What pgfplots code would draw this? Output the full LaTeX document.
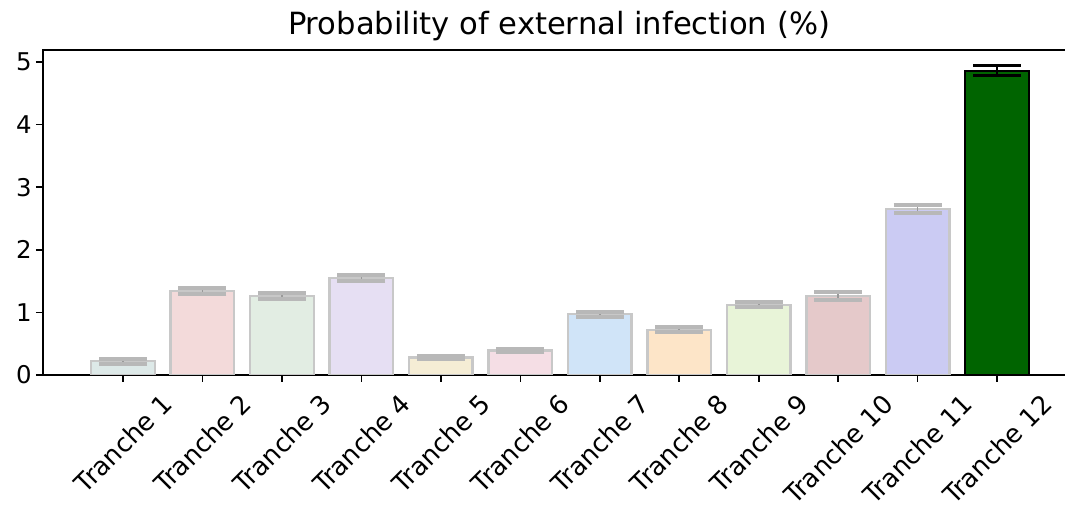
\documentclass[border=0pt]{standalone}
\usepackage{pgfplots}
\pgfplotsset{compat=1.18}
\usepackage{fontspec}
\setmainfont{DejaVu Sans}

% pastel fills of the faded bars
\definecolor{c1}{HTML}{DDE9E8}
\definecolor{c2}{HTML}{F3DADA}
\definecolor{c3}{HTML}{E2EDE3}
\definecolor{c4}{HTML}{E6DFF3}
\definecolor{c5}{HTML}{F5EDD5}
\definecolor{c6}{HTML}{F5DEE5}
\definecolor{c7}{HTML}{D0E4F8}
\definecolor{c8}{HTML}{FDE5C8}
\definecolor{c9}{HTML}{E8F4D8}
\definecolor{c10}{HTML}{E5C9CA}
\definecolor{c11}{HTML}{CBCBF3}
\definecolor{c12}{HTML}{006400}
\definecolor{edgegray}{HTML}{C8C8C8}
\definecolor{errgray}{HTML}{999999}
\definecolor{capgray}{HTML}{B8B8B8}

\pgfplotsset{
  faded/.style={draw=edgegray, line width=1.2pt, bar shift=0pt,
    error bars/y dir=both, error bars/y explicit,
    error bars/error bar style={line width=0.8pt, color=errgray},
    error bars/error mark options={rotate=90, mark size=12pt, line width=2pt, color=capgray}},
}

\begin{document}
\begin{tikzpicture}
\useasboundingbox (-21.5pt,-65.5pt) rectangle (511pt,187.5pt);
\begin{axis}[
    at={(0,0)}, anchor=south west,
    scale only axis,
    width=516pt, height=162.5pt,
    ybar,
    bar width=0.8,
    xmin=-1.007, xmax=11.98,
    ymin=0, ymax=5.19,
    ytick={0,1,2,3,4,5},
    xtick={0,...,11},
    xticklabels={\rotatebox{45}{Tranche 1},\rotatebox{45}{Tranche 2},\rotatebox{45}{Tranche 3},
      \rotatebox{45}{Tranche 4},\rotatebox{45}{Tranche 5},\rotatebox{45}{Tranche 6},
      \rotatebox{45}{Tranche 7},\rotatebox{45}{Tranche 8},\rotatebox{45}{Tranche 9},
      \rotatebox{45}{Tranche 10},\rotatebox{45}{Tranche 11},\rotatebox{45}{Tranche 12}},
    xticklabel style={anchor=north, inner sep=0pt, yshift=-5pt,
      font=\fontsize{12.8}{15}\selectfont},
    yticklabel style={inner sep=2pt, font=\fontsize{12.2}{14}\selectfont},
    tick align=outside,
    xtick pos=bottom, ytick pos=left,
    major tick length=3.5pt,
    every tick/.style={black, line width=0.8pt},
    axis line style={line width=1pt},
    /pgf/number format/assume math mode=true,
    title={Probability of external infection (\%)},
    title style={font=\fontsize{15.3}{18}\selectfont, yshift=-5pt},
]
\addplot[faded, fill=c1]  coordinates {(0,0.22) +- (0,0.04)};
\addplot[faded, fill=c2]  coordinates {(1,1.34) +- (0,0.05)};
\addplot[faded, fill=c3]  coordinates {(2,1.26) +- (0,0.05)};
\addplot[faded, fill=c4]  coordinates {(3,1.55) +- (0,0.05)};
\addplot[faded, fill=c5]  coordinates {(4,0.28) +- (0,0.02)};
\addplot[faded, fill=c6]  coordinates {(5,0.39) +- (0,0.03)};
\addplot[faded, fill=c7]  coordinates {(6,0.97) +- (0,0.04)};
\addplot[faded, fill=c8]  coordinates {(7,0.72) +- (0,0.04)};
\addplot[faded, fill=c9]  coordinates {(8,1.12) +- (0,0.04)};
\addplot[faded, fill=c10] coordinates {(9,1.26) +- (0,0.07)};
\addplot[faded, fill=c11] coordinates {(10,2.65) +- (0,0.07)};
\addplot[fill=c12, draw=black, line width=1pt, bar shift=0pt,
    error bars/y dir=both, error bars/y explicit,
    error bars/error bar style={line width=1.2pt, color=black},
    error bars/error mark options={rotate=90, mark size=12pt, line width=1.5pt, color=black}]
    coordinates {(11,4.86) +- (0,0.085)};
\end{axis}
\end{tikzpicture}
\end{document}
